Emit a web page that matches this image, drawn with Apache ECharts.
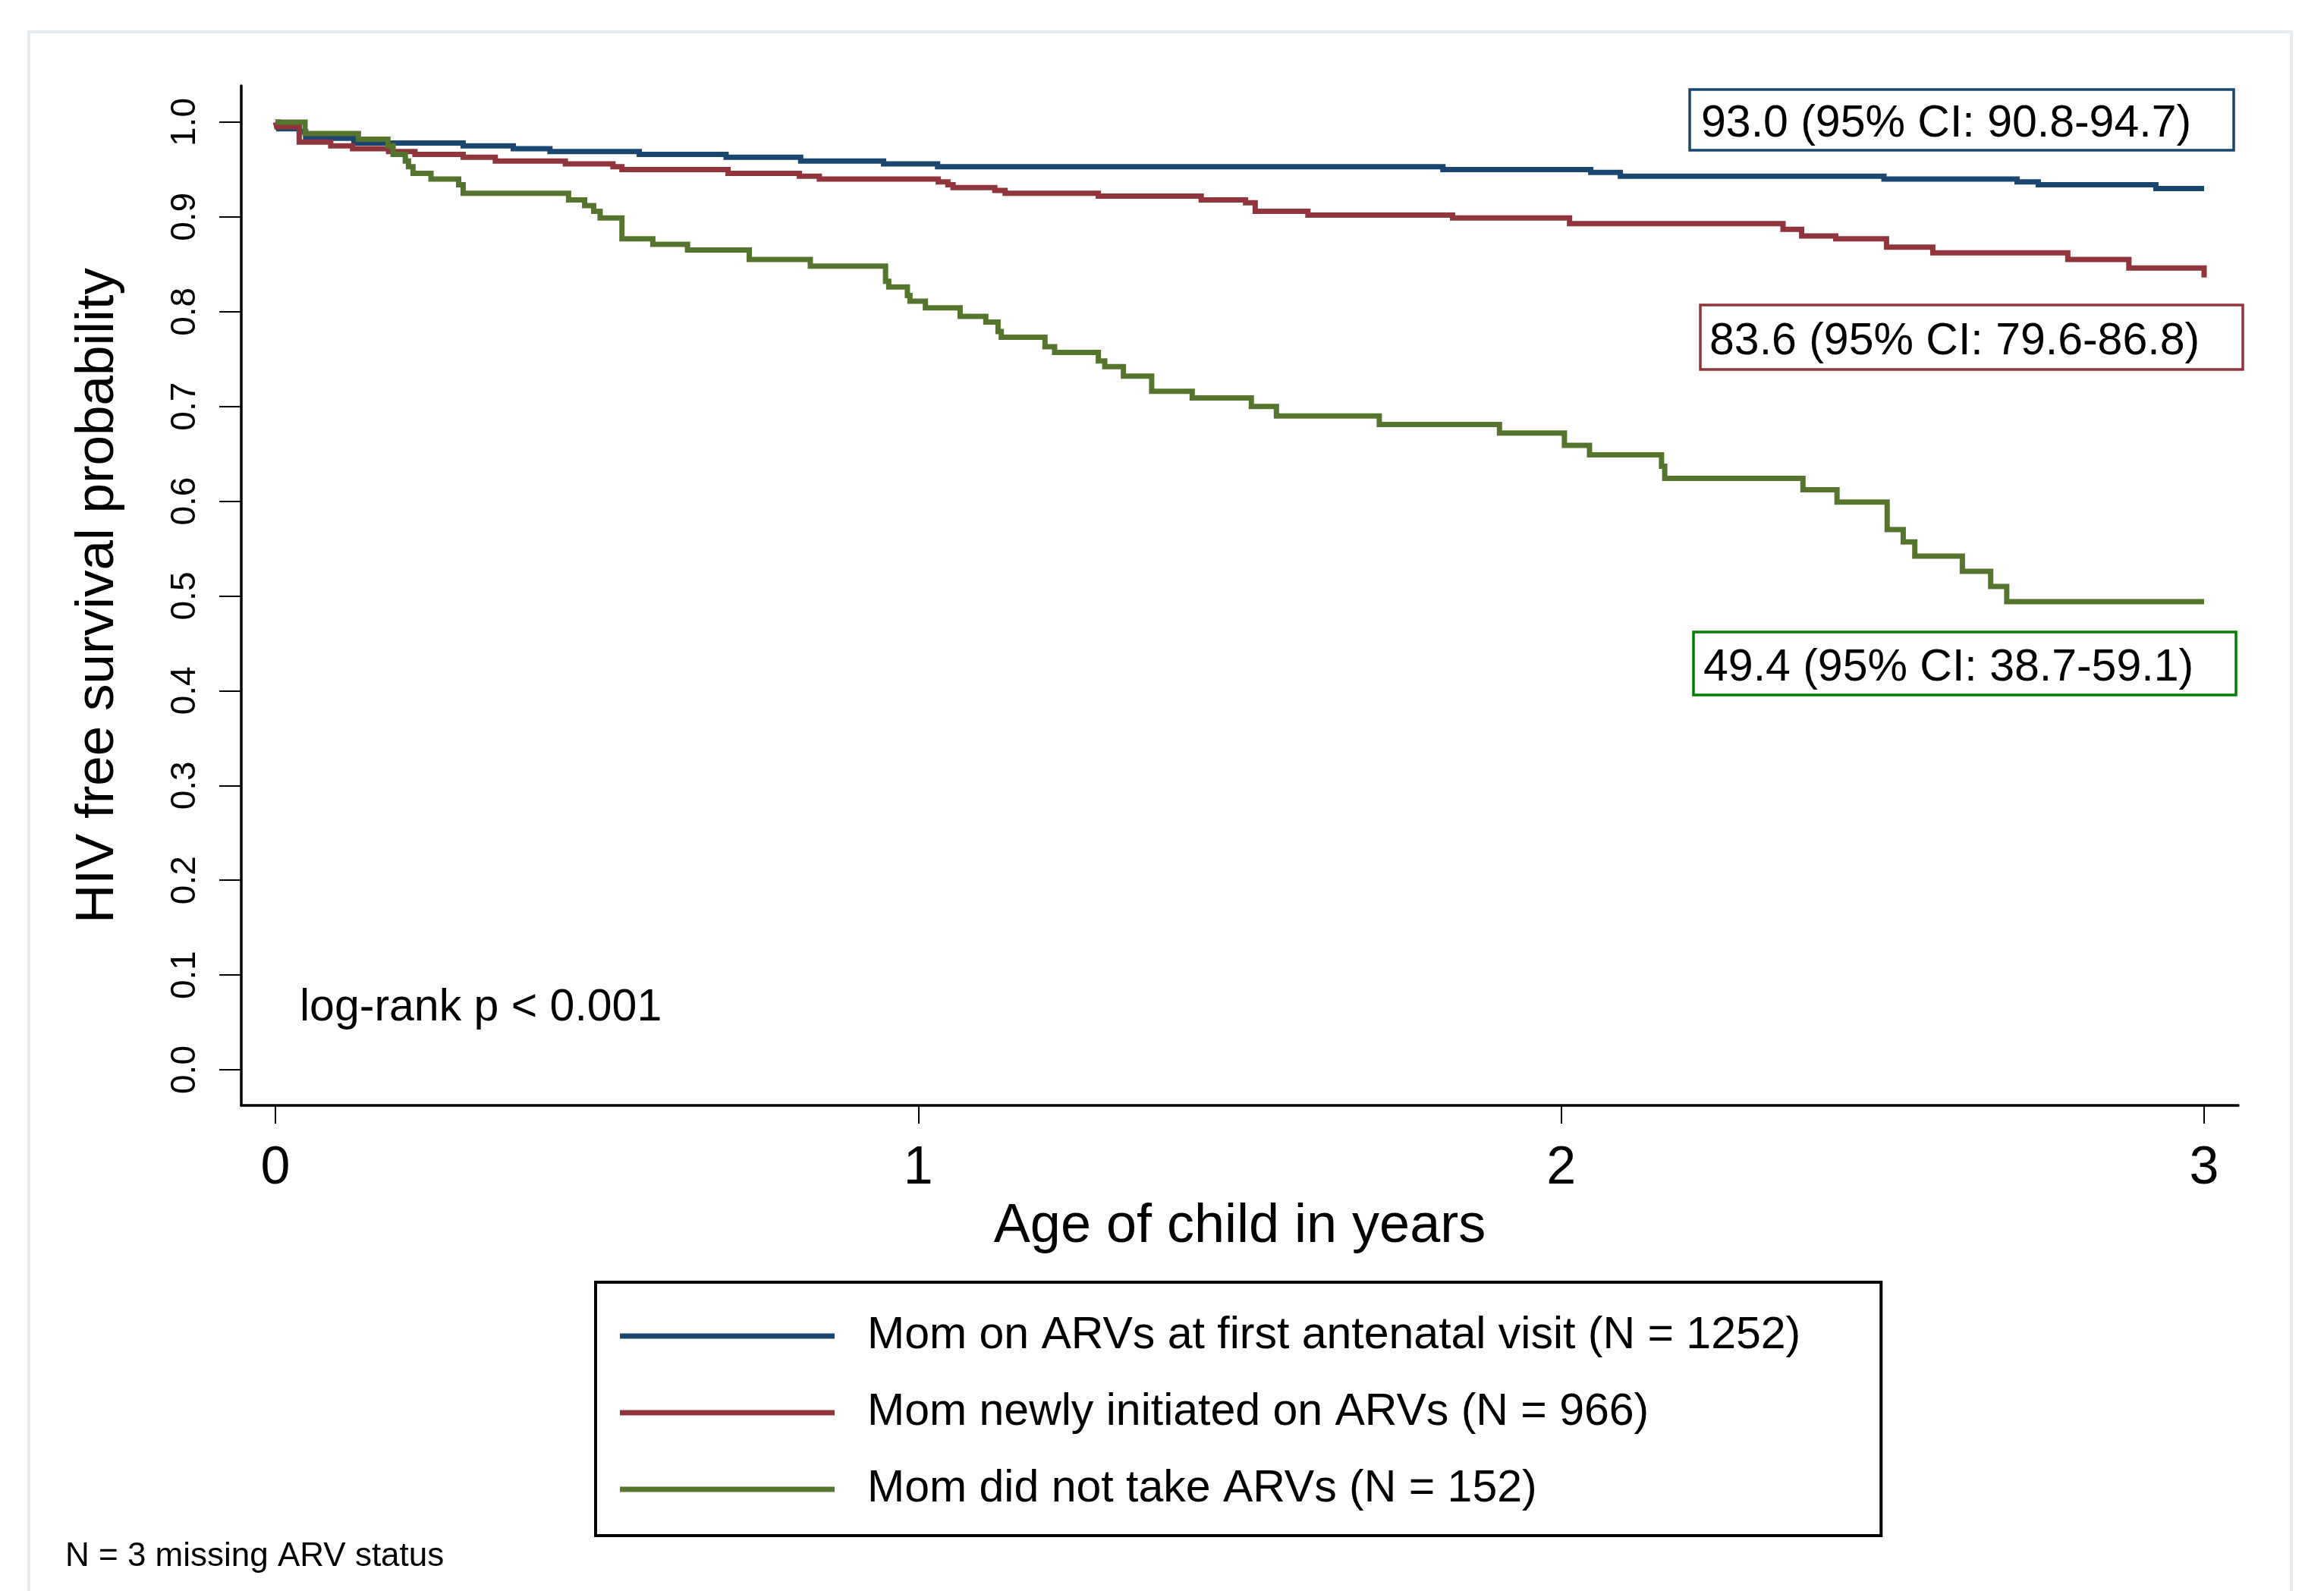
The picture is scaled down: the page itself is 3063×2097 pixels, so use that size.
<!DOCTYPE html>
<html><head><meta charset="utf-8">
<style>html,body{margin:0;padding:0;background:#fff}#c{width:3063px;height:2097px}</style>
<script src="https://cdn.jsdelivr.net/npm/echarts@6/dist/echarts.min.js"></script>
</head><body><div id="c"></div>
<script>
// ---------- data ----------
const seriesNames = [
  'Mom on ARVs at first antenatal visit (N = 1252)',
  'Mom newly initiated on ARVs (N = 966)',
  'Mom did not take ARVs (N = 152)'
];
const seriesColors = ['#1a476f', '#90353b', '#55752f'];
const xTicks = [0, 1, 2, 3];
const yTicks = [0.0, 0.1, 0.2, 0.3, 0.4, 0.5, 0.6, 0.7, 0.8, 0.9, 1.0];

const onArvTime = [0, 0.005, 0.037, 0.047, 0.122, 0.292, 0.370, 0.427, 0.566, 0.701, 0.817, 0.946, 1.030, 1.816, 2.046, 2.092, 2.502, 2.709, 2.742, 2.925, 3.0];
const onArvSurv = [1.0, 0.993, 0.990, 0.983, 0.978, 0.975, 0.972, 0.969, 0.966, 0.963, 0.959, 0.956, 0.953, 0.950, 0.947, 0.943, 0.940, 0.937, 0.934, 0.930, 0.930];

const newArvTime = [0, 0.002, 0.037, 0.086, 0.120, 0.176, 0.217, 0.292, 0.342, 0.451, 0.525, 0.539, 0.704, 0.815, 0.846, 1.031, 1.046, 1.054, 1.119, 1.135, 1.280, 1.440, 1.509, 1.524, 1.606, 1.831, 2.013, 2.345, 2.374, 2.427, 2.506, 2.578, 2.788, 2.883, 3.0];
const newArvSurv = [1.0, 0.995, 0.979, 0.975, 0.972, 0.969, 0.966, 0.963, 0.959, 0.956, 0.953, 0.950, 0.946, 0.943, 0.940, 0.937, 0.934, 0.931, 0.928, 0.925, 0.922, 0.918, 0.915, 0.906, 0.902, 0.899, 0.893, 0.887, 0.880, 0.877, 0.868, 0.862, 0.855, 0.846, 0.836];

const noArvTime = [0, 0.046, 0.129, 0.175, 0.183, 0.202, 0.207, 0.214, 0.242, 0.285, 0.292, 0.456, 0.481, 0.495, 0.505, 0.539, 0.587, 0.641, 0.737, 0.832, 0.949, 0.954, 0.983, 0.987, 1.011, 1.065, 1.105, 1.124, 1.129, 1.197, 1.212, 1.280, 1.290, 1.319, 1.363, 1.426, 1.518, 1.557, 1.717, 1.904, 2.005, 2.044, 2.156, 2.161, 2.376, 2.429, 2.507, 2.532, 2.550, 2.624, 2.668, 2.693, 3.0];
const noArvSurv = [1.0, 0.988, 0.982, 0.975, 0.966, 0.959, 0.953, 0.946, 0.940, 0.934, 0.925, 0.918, 0.912, 0.906, 0.899, 0.877, 0.871, 0.865, 0.855, 0.848, 0.832, 0.826, 0.817, 0.811, 0.804, 0.795, 0.789, 0.779, 0.773, 0.763, 0.757, 0.748, 0.742, 0.732, 0.716, 0.709, 0.700, 0.690, 0.681, 0.672, 0.659, 0.649, 0.637, 0.624, 0.612, 0.599, 0.570, 0.557, 0.542, 0.526, 0.510, 0.494, 0.494];

const estimateLabels = ['93.0 (95% CI: 90.8-94.7)', '83.6 (95% CI: 79.6-86.8)', '49.4 (95% CI: 38.7-59.1)'];
const estimateBoxColors = ['#1a476f', '#90353b', '#008000'];
const pValueText = 'log-rank p < 0.001';
const footnoteText = 'N = 3 missing ARV status';

// ---------- build ----------
const FONT = "'Liberation Sans', Arial, sans-serif";
const zip = (t, s) => t.map((v, i) => [v, s[i]]);
const curves = [zip(onArvTime, onArvSurv), zip(newArvTime, newArvSurv), zip(noArvTime, noArvSurv)];

const boxes = [
  {x: 2227, y: 118, w: 717, h: 80, tx: 2242},
  {x: 2241, y: 402, w: 715, h: 85, tx: 2253},
  {x: 2232, y: 833, w: 715, h: 83, tx: 2245}
];
const graphics = [
  {type: 'rect', silent: true, z: -10, shape: {x: 38, y: 42, width: 2982, height: 2200},
   style: {fill: 'none', stroke: '#e4ecef', lineWidth: 4}}
];
boxes.forEach((b, i) => {
  graphics.push({type: 'rect', silent: true, shape: {x: b.x, y: b.y, width: b.w, height: b.h},
    style: {fill: '#fff', stroke: estimateBoxColors[i], lineWidth: 3.5}});
  graphics.push({type: 'text', silent: true, x: b.tx, y: b.y + b.h / 2 + 6,
    style: {text: estimateLabels[i], fontSize: 59, fontFamily: FONT, fill: '#000', align: 'left', verticalAlign: 'middle'}});
});
graphics.push({type: 'text', silent: true, x: 395, y: 1329,
  style: {text: pValueText, fontSize: 59, fontFamily: FONT, fill: '#000', align: 'left', verticalAlign: 'middle'}});
graphics.push({type: 'text', silent: true, x: 86, y: 2052,
  style: {text: footnoteText, fontSize: 44, fontFamily: FONT, fill: '#000', align: 'left', verticalAlign: 'middle'}});

const chart = echarts.init(document.getElementById('c'), null, {renderer: 'canvas'});
chart.setOption({
  animation: false,
  backgroundColor: '#fff',
  grid: {left: 318, right: 113, top: 113, bottom: 640, containLabel: false},
  xAxis: {
    type: 'value', min: -0.05313, max: 3.05313,
    axisLine: {show: true, onZero: false, lineStyle: {color: '#000', width: 3.5}},
    axisTick: {show: true, length: 24, customValues: xTicks, lineStyle: {color: '#000', width: 2}},
    axisLabel: {customValues: xTicks, margin: 49, fontSize: 70, fontFamily: FONT, color: '#000'},
    splitLine: {show: false},
    name: 'Age of child in years', nameLocation: 'middle', nameGap: 111,
    nameTextStyle: {fontSize: 72, fontFamily: FONT, color: '#000'}
  },
  yAxis: {
    type: 'value', min: -0.03763, max: 1.03843,
    axisLine: {show: true, onZero: false, lineStyle: {color: '#000', width: 3.5}},
    axisTick: {show: true, length: 29, customValues: yTicks, lineStyle: {color: '#000', width: 2}},
    axisLabel: {customValues: yTicks, rotate: 90, margin: 51, fontSize: 46, fontFamily: FONT, color: '#000',
      formatter: v => Number(v).toFixed(1)},
    splitLine: {show: false},
    name: 'HIV free survival probability', nameLocation: 'middle', nameGap: 153,
    nameTextStyle: {fontSize: 71, fontFamily: FONT, color: '#000'}
  },
  legend: {
    orient: 'vertical', left: 785, top: 1690, padding: [36, 106, 26, 32],
    itemGap: 31, itemWidth: 283, itemHeight: 7, selectedMode: false, icon: 'rect',
    borderColor: '#000', borderWidth: 4, backgroundColor: '#fff',
    formatter: '{t|{name}}',
    textStyle: {fontSize: 59, fontFamily: FONT, color: '#000', lineHeight: 70,
      rich: {t: {fontSize: 59, fontFamily: FONT, color: '#000', lineHeight: 70, padding: [0, 0, 0, 38]}}},
    data: seriesNames
  },
  series: curves.map((d, i) => ({
    type: 'line', name: seriesNames[i], data: d, step: 'end',
    symbol: 'none', showSymbol: false,
    lineStyle: {color: seriesColors[i], width: 7, join: 'miter', cap: 'butt'},
    itemStyle: {color: seriesColors[i]},
    emphasis: {disabled: true}
  })),
  graphic: graphics
});
</script></body></html>
